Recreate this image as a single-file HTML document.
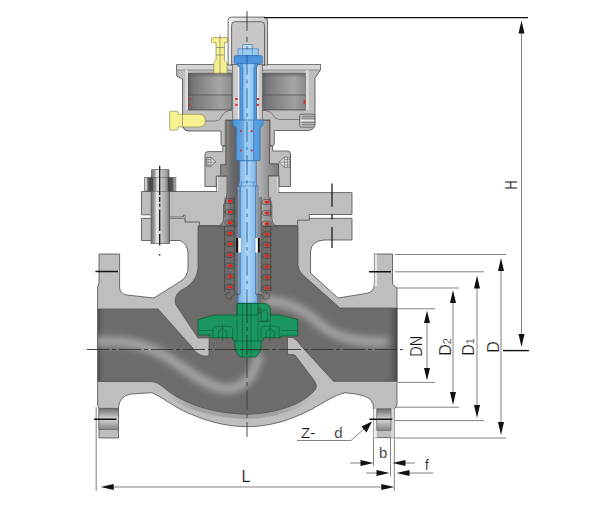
<!DOCTYPE html>
<html><head><meta charset="utf-8">
<style>
html,body{margin:0;padding:0;background:#fff;}
body{width:600px;height:514px;overflow:hidden;font-family:"Liberation Sans",sans-serif;}
svg{display:block;}
text{font-family:"Liberation Sans",sans-serif;fill:#111;}
</style></head><body>
<svg width="600" height="514" viewBox="0 0 600 514">
<defs>
<linearGradient id="gDarkH" x1="0" x2="1" y1="0" y2="0">
 <stop offset="0" stop-color="#626262"/><stop offset=".12" stop-color="#787878"/><stop offset=".72" stop-color="#a6a6a6"/><stop offset="1" stop-color="#8a8a8a"/>
</linearGradient>
<linearGradient id="gDarkH2" x1="0" x2="1" y1="0" y2="0">
 <stop offset="0" stop-color="#686868"/><stop offset=".15" stop-color="#7a7a7a"/><stop offset=".75" stop-color="#a0a0a0"/><stop offset="1" stop-color="#868686"/>
</linearGradient>
<linearGradient id="gBlue" gradientUnits="userSpaceOnUse" x1="240" x2="256.5" y1="0" y2="0">
 <stop offset="0" stop-color="#4f97dd"/><stop offset=".17" stop-color="#5aa0e2"/><stop offset=".19" stop-color="#8cc3f0"/><stop offset=".5" stop-color="#a8d4f6"/><stop offset=".82" stop-color="#8cc3f0"/><stop offset=".84" stop-color="#5aa0e2"/><stop offset="1" stop-color="#4590da"/>
</linearGradient>
<linearGradient id="gBlueLow" gradientUnits="userSpaceOnUse" x1="238" x2="257.4" y1="0" y2="0">
 <stop offset="0" stop-color="#6eaae2"/><stop offset=".12" stop-color="#7db6ea"/><stop offset=".2" stop-color="#8cc0ee"/><stop offset=".5" stop-color="#acd6f6"/><stop offset=".8" stop-color="#8cc0ee"/><stop offset=".9" stop-color="#7db6ea"/><stop offset="1" stop-color="#6eaae2"/>
</linearGradient>
<linearGradient id="gBush" x1="0" x2="1" y1="0" y2="0">
 <stop offset="0" stop-color="#4a92da"/><stop offset=".3" stop-color="#5fa5e4"/><stop offset=".32" stop-color="#86bfee"/><stop offset=".5" stop-color="#9ccbf3"/><stop offset=".66" stop-color="#86bfee"/><stop offset=".68" stop-color="#5fa5e4"/><stop offset="1" stop-color="#4a92da"/>
</linearGradient>
<linearGradient id="gBolt" x1="0" x2="1" y1="0" y2="0">
 <stop offset="0" stop-color="#767676"/><stop offset=".15" stop-color="#909090"/><stop offset=".32" stop-color="#eeeeee"/><stop offset=".5" stop-color="#cacaca"/><stop offset=".85" stop-color="#a2a2a2"/><stop offset="1" stop-color="#6e6e6e"/>
</linearGradient>
<linearGradient id="gHole" x1="0" x2="1" y1="0" y2="0">
 <stop offset="0" stop-color="#dcdcdc"/><stop offset=".5" stop-color="#7e7e7e"/><stop offset="1" stop-color="#d0d0d0"/>
</linearGradient>
<linearGradient id="gCol" gradientUnits="userSpaceOnUse" x1="220" x2="277" y1="0" y2="0">
 <stop offset="0" stop-color="#8e8e8e"/><stop offset=".12" stop-color="#868686"/><stop offset=".2" stop-color="#6c6c6c"/><stop offset=".3" stop-color="#626262"/><stop offset=".62" stop-color="#808080"/><stop offset=".66" stop-color="#b6b6b6"/><stop offset=".8" stop-color="#9c9c9c"/><stop offset="1" stop-color="#7e7e7e"/>
</linearGradient>
<linearGradient id="gHoleV" x1="0" x2="0" y1="0" y2="1">
 <stop offset="0" stop-color="#6c6c6c"/><stop offset=".5" stop-color="#d6d6d6"/><stop offset="1" stop-color="#858585"/>
</linearGradient>
<marker id="arr" viewBox="0 0 13 6" refX="13" refY="3" markerWidth="13" markerHeight="6" orient="auto" markerUnits="userSpaceOnUse"><path d="M0,0 L13,3 L0,6 Z" fill="#111"/></marker>
<linearGradient id="gNut" x1="0" x2="1" y1="0" y2="0">
 <stop offset="0" stop-color="#d2d2d2"/><stop offset=".07" stop-color="#c4c4c4"/><stop offset=".1" stop-color="#6a6a6a"/><stop offset=".16" stop-color="#4a4a4a"/><stop offset=".5" stop-color="#444"/><stop offset=".8" stop-color="#444"/><stop offset=".9" stop-color="#5c5c5c"/><stop offset=".95" stop-color="#9a9a9a"/><stop offset="1" stop-color="#c8c8c8"/>
</linearGradient>
<linearGradient id="gEdgeL" x1="0" x2="1" y1="0" y2="0"><stop offset="0" stop-color="#4c4c4c"/><stop offset="1" stop-color="#6b6b6b" stop-opacity="0"/></linearGradient>
<linearGradient id="gEdgeR" x1="0" x2="1" y1="0" y2="0"><stop offset="0" stop-color="#6b6b6b" stop-opacity="0"/><stop offset="1" stop-color="#484848"/></linearGradient>
<linearGradient id="gCap" x1="0" x2="1" y1="0" y2="0"><stop offset="0" stop-color="#f4f4f4"/><stop offset=".12" stop-color="#e8e8e8"/><stop offset=".9" stop-color="#cfcfcf"/><stop offset="1" stop-color="#bdbdbd"/></linearGradient>
<linearGradient id="gTubeL" x1="0" x2="1" y1="0" y2="0"><stop offset="0" stop-color="#c4c4c4"/><stop offset=".7" stop-color="#cfcfcf"/><stop offset=".75" stop-color="#efefef"/><stop offset="1" stop-color="#f4f4f4"/></linearGradient>
<linearGradient id="gTubeR" x1="0" x2="1" y1="0" y2="0"><stop offset="0" stop-color="#f0f0f0"/><stop offset=".3" stop-color="#e2e2e2"/><stop offset=".35" stop-color="#cdcdcd"/><stop offset="1" stop-color="#c4c4c4"/></linearGradient>
<filter id="blur4" x="-20%" y="-30%" width="140%" height="160%"><feGaussianBlur stdDeviation="3.6"/></filter>
<linearGradient id="gShadeTop" x1="0" x2="0" y1="0" y2="1"><stop offset="0" stop-color="#555" stop-opacity=".55"/><stop offset="1" stop-color="#555" stop-opacity="0"/></linearGradient>
<linearGradient id="gBand" gradientUnits="userSpaceOnUse" x1="166" x2="312" y1="0" y2="0"><stop offset="0" stop-color="#a2a2a2" stop-opacity="0"/><stop offset=".2" stop-color="#a2a2a2"/><stop offset=".75" stop-color="#a2a2a2"/><stop offset="1" stop-color="#a2a2a2" stop-opacity="0"/></linearGradient>
<filter id="blur3" x="-20%" y="-20%" width="140%" height="140%"><feGaussianBlur stdDeviation="3"/></filter>
<filter id="blur2" x="-20%" y="-20%" width="140%" height="140%"><feGaussianBlur stdDeviation="2"/></filter>
<clipPath id="clipDark"><path id="darkPath" d="M98,309 H158 L192,347 Q197,355 204,356 H209 V338 H198 L176,305 Q173,297 180,291 Q197,283 198,268 V226 H298 V265 Q298,270 303,275 L340,308 H397 V381.3 H333.5 L301,346 Q297,339 292,337.5 H287.5 V354 L295,355 L313,379 Q318.5,386 315,390 C310,396 300,402.5 295,404.2 C280,410.5 265,414 247,414.2 C205,413.5 178,399 166.7,390 C162,386 158,382 150,381.5 H98 Z"/></clipPath>
</defs>
<!-- BODY -->
<g stroke="#4d4d4d" stroke-width="0.8" stroke-linejoin="round">
<path id="body" fill="#bfbebc" d="M99,254 H119.6 V287 Q119.6,294 127,295 L154,298 L181,281 Q188,276 188,268 V253 Q187.5,244 180,240.5 L172,240.5 H141.5 V218.3 H352 V240 H324 Q311,241 310.5,252 V273 L338,298 L366,293.5 Q374.4,292 374.4,284 V254 H392.5 V284 L397,288 V405 L394.3,409 V437.6 H373.5 V409 Q374,399 364,396 L356,394 L345,392.7 C333,396 325,402 311.7,409.2 C289,421 269,426.5 247,426.7 C225,426.5 205,421 183.3,410.8 C170,404 162,397 152,392.7 L131,394 Q119,396 118.5,408 V438 H99 V408 L97.6,405 V287 L99,283 Z"/>
</g>
<!-- dark interior -->
<g>
<path d="M166,390 C182,402 208,413.5 247,414.2 C265,414 280,410.5 295,404.2 L312,393" fill="none" stroke="url(#gBand)" stroke-width="9.5" stroke-linecap="butt"/>
<path d="M98,309 H158 L192,347 Q197,355 204,356 H209 V338 H198 L176,305 Q173,297 180,291 Q197,283 198,268 V226 H298 V265 Q298,270 303,275 L340,308 H397 V381.3 H333.5 L301,346 Q297,339 292,337.5 H287.5 V354 L295,355 L313,379 Q318.5,386 315,390 C310,396 300,402.5 295,404.2 C280,410.5 265,414 247,414.2 C205,413.5 178,399 166.7,390 C162,386 158,382 150,381.5 H98 Z" fill="#6e6c6b" stroke="#4a4a4a" stroke-width="0.7"/>
<g clip-path="url(#clipDark)">
 <rect x="97" y="309" width="9" height="73" fill="url(#gEdgeL)"/>
 <rect x="386" y="308" width="11" height="74" fill="url(#gEdgeR)"/>
 <!-- flow highlights -->
 <path d="M94,342 C125,340 145,344 165,356 C185,368 200,383 222,388.5 C245,391 254,376 259,354" fill="none" stroke="#a8a8a8" stroke-width="9" filter="url(#blur4)"/>
 <path d="M264,301 C282,301 300,305 322,326 C340,340 362,342 388,342" fill="none" stroke="#a6a6a6" stroke-width="9" filter="url(#blur4)"/>
 
</g>
</g>
<!-- flange holes -->
<g stroke="#555" stroke-width="0.6">
<rect x="99" y="408.2" width="19.5" height="21.2" fill="url(#gHoleV)"/>
<rect x="373.5" y="409" width="3.3" height="28.6" fill="#ededed" stroke="none"/>
<rect x="391" y="409" width="3.3" height="28.6" fill="#d8d8d8" stroke="none"/>
<rect x="376.8" y="408.8" width="14.2" height="21.5" fill="url(#gHoleV)"/>
<rect x="374.6" y="254.4" width="2.5" height="32" fill="#e6e6e6" stroke="none"/>
</g>
<!-- BONNET -->
<g stroke="#4d4d4d" stroke-width="0.8" stroke-linejoin="round">
<path fill="#bfbebc" d="M141.5,191.5 H216.7 V176 H278.7 V192.6 H352 V214.5 H309.3 V220.2 H297.6 V225.5 H199.4 V222 H185 V215 H183.5 V217 H169 V214.8 H141.5 Z"/>
<path fill="none" stroke="#e8e8e8" stroke-width="1" d="M217.5,176.5 V191 M277.9,176.5 V192"/>
</g>
<!-- brackets -->
<g stroke="#4d4d4d" stroke-width="0.8" stroke-linejoin="round" fill="#bfbebc">
<path d="M208,151.6 H222.8 V146 H226 V164.8 H220.8 V176 H216.2 V186.5 H204.9 V154.6 Q204.9,151.6 208,151.6 Z"/>
<path d="M287.4,151 H272.6 V146 H269.4 V164 H278.5 V175.5 H279.2 V186.5 H290.5 V154 Q290.5,151 287.4,151 Z"/>
<!-- bracket bolts -->
<path fill="#dcdcdc" stroke-width="0.6" d="M206.3,157.5 H211 L215.8,161.8 L211,166 H206.3 Z"/>
<path fill="#dcdcdc" stroke-width="0.6" d="M289.8,157.2 H284.4 L278.7,162.2 L284.4,167.3 H289.8 Z"/>
<path fill="none" stroke="#555" stroke-width="0.5" d="M205.6,159.5 H211 M205.6,162.2 H216 M205.6,165 H211 M208,157.2 V167.3 M211,157.2 V167.3"/>
<path fill="none" stroke="#555" stroke-width="0.5" d="M289.8,159.5 H284.4 M289.8,162.2 H279.4 M289.8,165 H284.4 M287.4,157.2 V167.3 M284.4,157.2 V167.3"/>
</g>
<!-- COLUMN -->
<g stroke="#4d4d4d" stroke-width="0.7" stroke-linejoin="round">
<path fill="url(#gCol)" d="M226,120 H269.4 V164 H278.5 V175.5 H268.4 V190 Q268.4,200 271.9,205 V217 Q271.9,224 276.4,226 H219 Q223.5,224 223.5,217 V205 Q227,200 227,190 V176 H220.8 V164.8 H226 Z"/>
</g>
<!-- HOUSING -->
<g stroke="#4d4d4d" stroke-width="0.8" stroke-linejoin="round">
<path fill="#bfbebc" d="M176.7,64.5 H320.5 V70 L315,78 V123 Q315,130.5 307,130.5 H274.3 V144 Q274.3,145.5 272.5,145.5 H270 V120 H225.3 V145.5 H222.8 Q221,145.5 221,144 V131 H189 Q182.5,130.5 182.5,124 V79 L176.7,76 Z"/>
<path fill="#d6d6d6" stroke-width="0.5" d="M176.7,64.5 H320.5 V70 H176.7 Z"/>
<path fill="none" stroke-width="0.6" d="M232,110 Q224,111 222,116 Q220,121 216,121 H205.5 M262.3,110 Q271,111 273,115 Q275,119 279,119.5 H300"/>
<!-- cavities -->
<rect x="188" y="73.3" width="44" height="36.5" fill="url(#gDarkH)" stroke="#444" stroke-width="0.7"/>
<rect x="262.3" y="73.3" width="43.5" height="36.5" fill="url(#gDarkH)" stroke="#444" stroke-width="0.7"/>
<rect x="188" y="95" width="44" height="14.8" fill="url(#gDarkH2)" stroke="#444" stroke-width="0.6"/>
<rect x="262.3" y="95" width="43.5" height="14.8" fill="url(#gDarkH2)" stroke="#444" stroke-width="0.6"/>
<rect x="188.4" y="73.7" width="43.2" height="4" fill="url(#gShadeTop)" stroke="none"/>
<rect x="262.7" y="73.7" width="42.7" height="4" fill="url(#gShadeTop)" stroke="none"/>
<rect x="185.2" y="70" width="2.8" height="40" fill="#dcdcdc" stroke="none"/>
<rect x="305.8" y="70" width="2.8" height="40" fill="#dcdcdc" stroke="none"/>
<!-- small bolt right -->
<rect x="299.6" y="114.2" width="15.2" height="13" rx="1.5" fill="#bdbdbd" stroke-width="0.7"/>
<path fill="none" stroke="#666" stroke-width="0.7" d="M302,116.3 H314.5 M302,118.2 H314.5 M302,122.6 H314.5 M302,124.6 H314.5"/>
<path fill="none" stroke="#f2f2f2" stroke-width="0.9" d="M300.5,120.5 H314.5"/>
</g>
<!-- yellow bolts -->
<g stroke="#8d8a55" stroke-width="0.7" fill="#f6f08e" stroke-linejoin="round">
<path d="M211.5,38.6 Q211.5,37.6 212.5,37.6 H226.7 Q227.7,37.6 227.7,38.6 V41.6 Q227.7,42.6 226.7,42.6 H224.4 V60 L227,63 V73.2 H213.8 V63 L216,60 V42.6 H212.5 Q211.5,42.6 211.5,41.6 Z"/>
<path d="M170.7,111.2 H177 Q178,111.2 178,112.2 V114.2 H199 Q205.3,114.5 205.3,120.6 Q205.3,126.7 199,127 H178 V129 Q178,130 177,130 H170.7 Q169.7,130 169.7,129 V112.2 Q169.7,111.2 170.7,111.2 Z"/>
</g>
<g stroke="#555" stroke-width="0.5" fill="none">
<path d="M220,34 V74 M216,47.5 H224.4 M216,55 H224.4"/>
<path d="M182.5,112 V124 Q182.5,130 189,131"/>
</g>
<!-- CAP -->
<g stroke="#4d4d4d" stroke-width="0.8">
<path fill="url(#gCap)" d="M228.1,65 V20.5 Q228.1,17.1 231.5,17.1 H264.2 Q267.6,17.1 267.6,20.5 V65 Z"/>
<path fill="#c7c6c5" d="M231.6,65 V25.2 Q231.6,21.7 235,21.7 H261 Q264.5,21.7 264.5,25.2 V65 Z"/>
</g>
<!-- tube wall around stem in housing -->
<g stroke="#4d4d4d" stroke-width="0.6">
<rect x="232.3" y="64.5" width="7.7" height="55.5" fill="url(#gTubeL)"/>
<rect x="256.5" y="64.5" width="6.1" height="55.5" fill="url(#gTubeR)"/>
</g>
<!-- red marks in housing -->
<g fill="#e3261c">
<rect x="189" y="98" width="1.6" height="2"/><rect x="189" y="104" width="1.6" height="2"/>
<rect x="235.3" y="98" width="2.4" height="2"/><rect x="235.3" y="103.8" width="2.4" height="2"/>
<rect x="256.8" y="98" width="2.3" height="2"/><rect x="256.8" y="103.8" width="2.3" height="2"/>
<ellipse cx="304.5" cy="102" rx="1" ry="2.6"/>
</g>
<!-- STEM (blue) -->
<g stroke="#2d6fb0" stroke-width="0.6" stroke-linejoin="round">
<path fill="url(#gBlue)" d="M237.6,63 H257.6 V66 L256.5,67.3 V160.8 H240 V67.3 L237.6,66 Z"/>
<path fill="#8797ab" stroke-width="0.4" d="M237.6,186 H240.2 V294 H237.6 Z"/>
<path fill="#97a4b4" stroke-width="0.4" d="M255.6,186 H258.3 V294 H255.6 Z"/>
<path fill="url(#gBlueLow)" d="M239.6,160.8 H256.2 V182 L257.2,186 H255.6 V294 L257.4,296 V303 H238 V296 L240.2,294 V186 H238.4 L239.6,182 Z"/>
<path fill="url(#gBush)" d="M232.8,120 H263.2 V124 Q263.2,126 260.2,127.5 V160.5 H236.3 V127.5 Q232.8,126 232.8,124 Z"/>
<path fill="none" stroke-width="0.5" d="M239.3,182 H256 M238.3,186 H256.6 M242,182 L241,186 M253.3,182 L254.3,186"/>
<rect x="242.6" y="44.5" width="9.6" height="4.5" fill="#c2ddf5"/>
<rect x="238" y="48.8" width="20.3" height="6.8" fill="#9ccbf2"/>
<path fill="none" stroke-width="0.5" d="M242.6,48.8 V55.6 M252.2,48.8 V55.6"/>
<rect x="234.2" y="55.6" width="28.2" height="8" rx="1.2" fill="#4c94dc"/>
<path fill="none" stroke="#2a66a8" stroke-width="0.5" d="M243,67.5 V160.8 M253.8,67.5 V160.8"/>
</g>
<g fill="#d0304a">
<circle cx="240.9" cy="131.2" r="1.1"/><circle cx="251.8" cy="131.2" r="1.1"/><circle cx="240.9" cy="150.6" r="1.1"/><circle cx="251.8" cy="150.6" r="1.1"/>
</g>
<!-- SPRINGS -->
<g>

<rect x="258.3" y="197" width="3.2" height="97" fill="#8e8e8e" stroke="none"/>
<g fill="none" stroke="#3a3a3a" stroke-width="0.6">
<path d="M225,197 V217 M224.5,226 V292 M234.2,197 V292 M261.2,197 V292 M270.5,197 V217 M270.8,226 V292"/>
<path d="M238,294 Q232,294 231,299 Q226,300 225.5,296 Q226,292 230,292.5"/>
<path d="M257.5,294 Q263,294 264,299 Q269,300 269.5,296 Q269,292 265,292.5"/>
</g>
<g id="coilsL" fill="none" stroke="#3a3a3a" stroke-width="0.6">
<ellipse cx="229.6" cy="201.0" rx="4.6" ry="2.6"/><ellipse cx="266.6" cy="202.0" rx="4.6" ry="2.6"/>
<ellipse cx="229.6" cy="212.0" rx="4.6" ry="2.6"/><ellipse cx="266.6" cy="213.0" rx="4.6" ry="2.6"/>
<ellipse cx="229.6" cy="222.7" rx="4.6" ry="2.6"/><ellipse cx="266.6" cy="223.7" rx="4.6" ry="2.6"/>
<ellipse cx="229.6" cy="233.3" rx="4.6" ry="2.6"/><ellipse cx="266.6" cy="234.3" rx="4.6" ry="2.6"/>
<ellipse cx="229.6" cy="244.0" rx="4.6" ry="2.6"/><ellipse cx="266.6" cy="245.0" rx="4.6" ry="2.6"/>
<ellipse cx="229.6" cy="255.0" rx="4.6" ry="2.6"/><ellipse cx="266.6" cy="256.0" rx="4.6" ry="2.6"/>
<ellipse cx="229.6" cy="265.7" rx="4.6" ry="2.6"/><ellipse cx="266.6" cy="266.7" rx="4.6" ry="2.6"/>
<ellipse cx="229.6" cy="276.4" rx="4.6" ry="2.6"/><ellipse cx="266.6" cy="277.4" rx="4.6" ry="2.6"/>
<ellipse cx="229.6" cy="287.0" rx="4.6" ry="2.6"/><ellipse cx="266.6" cy="288.0" rx="4.6" ry="2.6"/>

</g>
<g fill="#e3261c" stroke="none">
<ellipse cx="230" cy="201.0" rx="2.5" ry="1.6"/><ellipse cx="267" cy="202.0" rx="2.5" ry="1.6"/>
<ellipse cx="230" cy="212.0" rx="2.5" ry="1.6"/><ellipse cx="267" cy="213.0" rx="2.5" ry="1.6"/>
<ellipse cx="230" cy="222.7" rx="2.5" ry="1.6"/><ellipse cx="267" cy="223.7" rx="2.5" ry="1.6"/>
<ellipse cx="230" cy="233.3" rx="2.5" ry="1.6"/><ellipse cx="267" cy="234.3" rx="2.5" ry="1.6"/>
<ellipse cx="230" cy="244.0" rx="2.5" ry="1.6"/><ellipse cx="267" cy="245.0" rx="2.5" ry="1.6"/>
<ellipse cx="230" cy="255.0" rx="2.5" ry="1.6"/><ellipse cx="267" cy="256.0" rx="2.5" ry="1.6"/>
<ellipse cx="230" cy="265.7" rx="2.5" ry="1.6"/><ellipse cx="267" cy="266.7" rx="2.5" ry="1.6"/>
<ellipse cx="230" cy="276.4" rx="2.5" ry="1.6"/><ellipse cx="267" cy="277.4" rx="2.5" ry="1.6"/>
<ellipse cx="230" cy="287.0" rx="2.5" ry="1.6"/><ellipse cx="267" cy="288.0" rx="2.5" ry="1.6"/>

</g>
<rect x="236.1" y="238" width="2.2" height="14.5" fill="#111"/><rect x="238.3" y="238" width="2.5" height="14.5" fill="#fff"/>
<rect x="257.7" y="238" width="2.1" height="14.5" fill="#111"/><rect x="255.4" y="238" width="2.3" height="14.5" fill="#fff"/>
</g>
<!-- DISC (green) -->
<g stroke="#0b5a38" stroke-width="0.8" stroke-linejoin="round">
<path fill="#1c9661" d="M237,303.5 H263 Q270.5,303.5 270.5,311 V315 H280 L297.8,319.6 V336 H281 V337.8 H263 V341 H261 V350 L256,357 H240 L235,350 V341 H233 V337.8 H210 V335 H198 V319.6 L214.2,315 H237 Z"/>
<path fill="#3f6b55" stroke-width="0.5" d="M258,308 H260.6 V313.4 H258 Z"/>
<g fill="none" stroke-width="0.6">
<path d="M237,303.5 V341 M258,303.5 V341 M242.4,303.5 V357 M251,303.5 V357 M237,315 H258"/>
<path d="M261.3,321.3 V313 Q261.3,310 264.4,310 Q267.5,310 267.5,313 V321.3 Z M258,321.3 H270.5 V315"/>
<path d="M198,330.5 H213 M281,330.5 H297.8 M235,341 H261 M235,350 H261"/>
<path d="M213,337.8 V329 Q213,326.3 216,326.3 H229.6 Q232.6,326.3 232.6,329 V337.8 M218.5,337.8 V331.5 L222.6,328.5 L226.7,331.5 V337.8 M222.6,324 V341"/>
<path d="M261,337.8 V329 Q261,326.3 264,326.3 H276.2 Q279.2,326.3 279.2,329 V337.8 M266,337.8 V331.5 L270.1,328.5 L274.2,331.5 V337.8 M270.1,324 V341"/>
</g>
</g>
<!-- flange bolt/nut left -->
<g stroke="#4d4d4d" stroke-width="0.6">
<rect x="151" y="177" width="18.6" height="66.7" fill="url(#gBolt)"/>
<rect x="151.5" y="169.7" width="17.5" height="8" fill="url(#gBolt)"/>
<rect x="144.7" y="177.5" width="31.2" height="13.6" fill="url(#gNut)"/>
<rect x="153" y="177.5" width="15" height="13.6" fill="url(#gBolt)" stroke="none"/>
</g>
<g stroke="#111" stroke-width="1.2" fill="none">
<path d="M159.7,165.8 V195 M159.7,197 V201.8 M159.7,203.8 V206.7 M159.7,209.6 V231 M159.7,234 V245.6 M159.7,254 V255.4"/>
<path d="M332,183.4 V206.8 M332,214.3 V219.4 M332,227 V248"/>
</g>
<!-- center lines -->
<g stroke="#333" stroke-width="0.9" fill="none" stroke-dasharray="22 3 4 3">
<path d="M87,349.5 H403"/>
</g>
<g stroke-width="0.9" fill="none">
<path stroke="#333" d="M247,11 V30.8 M247,36.8 V42"/>
<path stroke="#2b5f9c" stroke-dasharray="20 5 3.5 5" stroke-dashoffset="24.8" d="M247,46 V303"/>
<path stroke="#1a3a2c" stroke-dasharray="20 4 4 4" d="M247,303 V358"/>
<path stroke="#3a3a3a" stroke-dasharray="20 4 4 4" d="M247,358 V437"/>
</g>
<!-- DIMENSIONS -->
<g stroke="#6c6c6c" stroke-width="0.85" fill="none">
<path d="M395,254.5 H506 M395,271.8 H484 M397,288 H459 M397,308.8 H435"/>
<path d="M398,382.4 H435 M395,407.2 H459 M394.5,420.6 H484 M394.5,438 H506"/>
<path d="M427,322 V369 M453,301 V394 M477,287 V406 M501,270 V423"/>
<path d="M521.5,32 V335"/>
<path d="M96.2,407 V491 M373.5,438 V466 M390.5,438 V476 M394.3,438 V491"/>
<path d="M112,487 H382"/>
<path d="M350,463 H362 M404,463 H415 M366,473 H378 M408,473 H433"/>
<path d="M297,440.5 H351 L364,429"/>
</g>
<g fill="#111" stroke="none">
<!-- vertical arrows: up -->
<path d="M427,310.5 l-3,12.5 h6 Z M453,290 l-3,13 h6 Z M477,275.5 l-3,13 h6 Z M501,258 l-3,13 h6 Z"/>
<!-- down -->
<path d="M427,380.5 l-3,-12.5 h6 Z M453,405 l-3,-13 h6 Z M477,418 l-3,-13 h6 Z M501,435 l-3,-13 h6 Z"/>
<path d="M521.5,20.5 l-3,13 h6 Z M521.5,347 l-3,-13 h6 Z"/>
<!-- L arrows -->
<path d="M100.7,487 l13,-3 v6 Z M394.3,487 l-13,-3 v6 Z"/>
<!-- b,f arrows -->
<path d="M373.5,463 l-13,-3 v6 Z M392.5,463 l13,-3 v6 Z M389.5,473 l-13,-3 v6 Z M396.5,473 l13,-3 v6 Z"/>
<!-- leader arrow -->
<path d="M372,421.5 L361.5,426.5 L366.5,432.5 Z"/>
</g>
<g stroke="#111" stroke-width="1.4" fill="none">
<path d="M264,17.6 H528"/>
<path d="M503,350.6 H529"/>
<path d="M95.4,271.5 H118 M94,419.3 H116.5 M369,271.7 H391 M369.5,419.3 H392.3"/>
</g>
<g font-size="16" stroke="#fff" stroke-width="0.22">
<text transform="translate(517,185) rotate(-90)" text-anchor="middle" textLength="9" lengthAdjust="spacingAndGlyphs">H</text>
<text transform="translate(422.3,346.3) rotate(-90)" text-anchor="middle" textLength="21" lengthAdjust="spacingAndGlyphs">DN</text>
<text transform="translate(451,347) rotate(-90)" text-anchor="middle">D<tspan font-size="11">2</tspan></text>
<text transform="translate(474,347) rotate(-90)" text-anchor="middle">D<tspan font-size="11">1</tspan></text>
<text transform="translate(499,347) rotate(-90)" text-anchor="middle">D</text>
<text x="241.5" y="481.5">L</text>
<text x="301" y="438.3" font-size="15">Z-</text>
<text x="334.3" y="438.3" font-size="15">d</text>
<text x="379" y="458.3" font-size="15">b</text>
<text x="424.8" y="470.3" font-size="15">f</text>
</g>
</svg>

</body></html>
